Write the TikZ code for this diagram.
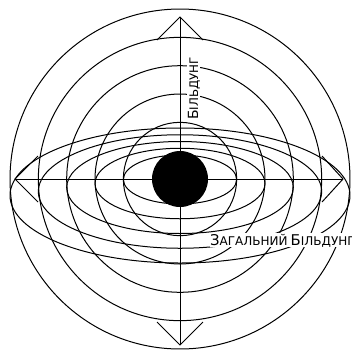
\documentclass[tikz,border=0pt]{standalone}
\usepackage{fontspec}
\setmainfont{DejaVu Sans}
\newcommand\mysc[4]{{\fontsize{#3}{#3}\selectfont #1}{\fontsize{#4}{#4}\selectfont #2}}
\begin{document}
\begin{tikzpicture}[x=1pt,y=-1pt,line width=1pt,
  lbl/.style={fill=white,inner sep=0.6pt}]
\useasboundingbox[fill=white] (0,0) rectangle (352,349);
\coordinate (c) at (180,179);
\foreach \k in {2,...,6}
  \draw (c) circle[radius={28.33*\k}];
\foreach \k in {2,...,6}
  \draw (180,{179.5+4*(\k-2)}) ellipse[x radius={28.33*\k}, y radius={24.5+10.75*(\k-2)}];
\coordinate (top) at (180,17);
\coordinate (bot) at (180,345);
\coordinate (lft) at (15,179);
\coordinate (rgt) at (343,179);
\draw (top) -- (bot);
\draw (lft) -- (rgt);
\draw (157,40) -- (top) -- (203,40);
\draw (157,322) -- (bot) -- (203,322);
\draw (38,156) -- (lft) -- (38,202);
\draw (322,156) -- (rgt) -- (322,202);
\fill (c) circle[radius=28];
\node[lbl,rotate=90,anchor=base west] (v) at (198,121) {\mysc{Б}{ІЛЬДУНГ}{14}{11.8}};
\node[lbl,anchor=base west] (h) at (209,245) {\mysc{З}{АГАЛЬНИЙ}{14.8}{12} \mysc{Б}{ІЛЬДУНГ}{14.8}{12}};
\end{tikzpicture}
\end{document}
